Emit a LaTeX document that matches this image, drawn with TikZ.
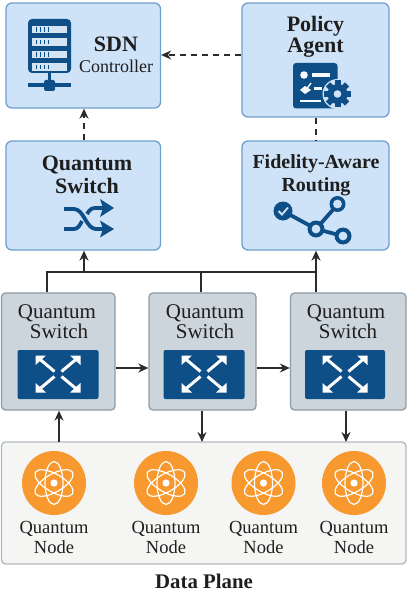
\documentclass[tikz,border=0pt]{standalone}
\usepackage{fontspec}
\setmainfont{Liberation Serif}
\usetikzlibrary{arrows.meta}
\definecolor{panelblue}{HTML}{CFE3F8}
\definecolor{panelline}{HTML}{6F9FD0}
\definecolor{deepblue}{HTML}{0F4F87}
\definecolor{slotblue}{HTML}{D5E4F2}
\definecolor{switchgrey}{HTML}{CDD5DC}
\definecolor{switchline}{HTML}{8E9BA5}
\definecolor{atomorange}{HTML}{F7992E}
\definecolor{planefill}{HTML}{F5F5F3}
\definecolor{planeline}{HTML}{B0BABF}
\definecolor{wire}{HTML}{2B2B2B}
\definecolor{ink}{HTML}{1E1E1E}
\tikzset{
  ctrlbox/.style={draw=panelline,fill=panelblue,line width=1.3pt,rounded corners=6pt,inner sep=0pt},
  swbox/.style={draw=switchline,fill=switchgrey,line width=1.3pt,rounded corners=4pt,inner sep=0pt},
  swpanel/.style={fill=deepblue,rounded corners=2pt,inner sep=0pt,minimum width=81pt,minimum height=49pt},
  planebox/.style={draw=planeline,fill=planefill,line width=1.3pt,rounded corners=4pt,inner sep=0pt},
  atomdisc/.style={circle,fill=atomorange,minimum size=64pt,inner sep=0pt},
  lbl/.style={anchor=base,inner sep=0pt,text=ink},
  solidarrow/.style={draw=wire,line width=1.5pt,-{Stealth[length=10pt,width=9pt]}},
  solidwire/.style={draw=wire,line width=1.5pt},
  dasharrow/.style={draw=wire,line width=1.3pt,dash pattern=on 6pt off 5pt,-{Stealth[length=10pt,width=9pt]}},
  dashwire/.style={draw=wire,line width=1.3pt,dash pattern=on 6pt off 5pt},
}
\newcommand{\boldlbl}[1]{\fontsize{#1}{#1}\selectfont\bfseries}
\newcommand{\reglbl}[1]{\fontsize{#1}{#1}\selectfont}
% box by corners: name, style, x1,y1,x2,y2
\newcommand{\cornerbox}[6]{%
  \node[#2,minimum width={#5pt-#3pt},minimum height={#6pt-#4pt}] (#1) at ({(#3+#5)/2},{(#4+#6)/2}) {};}
% white diagonal arrows centred at (#1,#2)
\newcommand{\crossarrows}[2]{%
  \begin{scope}[shift={(#1,#2)}]
    \foreach \sx/\sy in {1/1,1/-1,-1/1,-1/-1}{
      \draw[white,line width=3pt] (\sx*3.5,\sy*2.5) -- (\sx*19,\sy*15.5);
      \fill[white] (\sx*22.5,\sy*18.5) -- (\sx*22.5,\sy*9) -- (\sx*12,\sy*18.5) -- cycle;
    }
  \end{scope}}
% atom centred at (#1,#2)
\newcommand{\atomicon}[2]{%
  \begin{scope}[shift={(#1,#2)}]
    \foreach \a in {90,30,-30}{
      \draw[white,line width=1.2pt,rotate=\a] (0,0) ellipse [x radius=21.5pt,y radius=9pt];
    }
    \fill[white] (0,0) circle (3.6pt);
  \end{scope}}
\begin{document}
\begin{tikzpicture}[x=1pt,y=-1pt]
\useasboundingbox (0,0) rectangle (408,596);
% upper boxes
\cornerbox{sdn}{ctrlbox}{6}{3}{160.5}{108}
\cornerbox{policy}{ctrlbox}{242}{3}{389}{117}
\cornerbox{qstop}{ctrlbox}{6}{141}{160.5}{250}
\cornerbox{routing}{ctrlbox}{242}{141}{389}{250}
% switches
\cornerbox{swa}{swbox}{1.5}{293}{115}{410}
\cornerbox{swb}{swbox}{149}{293}{256}{410}
\cornerbox{swc}{swbox}{290.5}{293}{406}{410}
\cornerbox{plane}{planebox}{1.5}{442}{406}{564}
% connector anchors
\coordinate (busa) at (47,272);
\coordinate (busb) at (200.9,272);
\coordinate (busc) at (316,272);
\coordinate (busq) at (84,272);
\coordinate (linka) at (59,442);
\coordinate (linkb) at (202,442);
\coordinate (linkc) at (346,442);
\coordinate (row) at (0,368);
\coordinate (dashrow) at (0,55);
% connectors
\draw[solidwire] (busa |- swa.north) -- (busa) -- (busc);
\draw[draw=wire,line width=1.9pt] (busb |- swb.north) -- (busb);
\draw[solidarrow] (busc |- swc.north) -- (busc |- routing.south);
\draw[solidarrow] (busq) -- (busq |- qstop.south);
\draw[solidarrow] (swa.east |- row) -- (swb.west |- row);
\draw[solidarrow] (swb.east |- row) -- (swc.west |- row);
\draw[solidarrow] (linka) -- (linka |- swa.south);
\draw[solidarrow] (linkb |- swb.south) -- (linkb);
\draw[solidarrow] (linkc |- swc.south) -- (linkc);
\draw[dasharrow] (policy.west |- dashrow) -- (sdn.east |- dashrow);
\draw[dasharrow] (busq |- qstop.north) -- (busq |- sdn.south);
\draw[dashwire] (busc |- policy.south) -- (busc |- routing.north);
% SDN icon
\fill[deepblue,rounded corners=4pt] (28,19) rectangle (71,73);
\foreach \y in {26,38.5,51,63.5}{
  \fill[slotblue] (32,\y) rectangle (67,{\y+7.5});
  \foreach \x in {36,40,44,48}{\fill[deepblue] (\x,{\y+1.5}) rectangle ({\x+1.4},{\y+6});}
}
\fill[deepblue] (48,73) rectangle (51,82);
\fill[deepblue] (28,83) rectangle (71,87);
\fill[deepblue,rounded corners=2pt] (44,80) rectangle (55,91);
\node[lbl] (sdnt) at (116,52) {\boldlbl{22}SDN};
\node[lbl] (sdns) at (116,73) {\reglbl{18}Controller};
% top switch
\node[lbl] (qta) at (87,170) {\boldlbl{22}Quantum};
\node[lbl] (qtb) at (87,193) {\boldlbl{22}Switch};
\draw[deepblue,line width=3.8pt] (64,209) -- (74,209) .. controls (84,209) and (86,229) .. (96,229) -- (108,229);
\draw[deepblue,line width=3.8pt] (64,229) -- (74,229) .. controls (78,229) and (80,225) .. (82,221);
\draw[deepblue,line width=3.8pt] (87,214) .. controls (90,209) and (92,208) .. (96,208) -- (108,208);
\fill[deepblue] (100,199) -- (114,208) -- (100,217) -- (103,208) -- cycle;
\fill[deepblue] (100,220.5) -- (114,229) -- (100,237.5) -- (103,229) -- cycle;
% policy
\node[lbl] (pa) at (315.5,32) {\boldlbl{22}Policy};
\node[lbl] (pb) at (315.5,53) {\boldlbl{22}Agent};
\fill[deepblue,rounded corners=3pt] (293,63) rectangle (337.5,108.5);
\fill[white!85!panelblue] (304,75) circle (3.8pt);
\fill[white!85!panelblue] (312,73.5) rectangle (330,77);
\fill[white!85!panelblue] (300,90) -- (305,86) -- (311,90) -- (305,94) -- cycle;
\draw[white!85!panelblue,line width=1.4pt] (306,90) -- (311,83);
\fill[white!85!panelblue] (314,87) rectangle (322,90);
\fill[white!85!panelblue] (300,100) rectangle (321,102.5);
\fill[panelblue] (337.5,94) circle (15pt);
\foreach \a in {0,45,...,315}{
  \fill[deepblue,rotate around={\a:(337.5,94)}] (334.5,80.5) rectangle (340.5,90);
}
\fill[deepblue] (337.5,94) circle (10pt);
\fill[panelblue] (337.5,94) circle (3.8pt);
% routing
\node[lbl] (ra) at (316,168) {\boldlbl{20}Fidelity-Aware};
\node[lbl] (rb) at (316,191) {\boldlbl{20}Routing};
\draw[deepblue,line width=3.8pt] (283,211) -- (316,229) -- (338,204);
\draw[deepblue,line width=3.8pt] (316,229) -- (343,236);
\fill[deepblue] (283,211) circle (9.5pt);
\draw[panelblue,line width=1.8pt] (278.5,211) -- (282,214.5) -- (288,207.5);
\foreach \x/\y/\r in {316/229/8.5,337.5/204/8,343/236/8.5}{
  \fill[deepblue] (\x,\y) circle (\r pt);
  \fill[panelblue] (\x,\y) circle (4.4pt);
}
% switch contents
\node[lbl] (saa) at (57,318) {\reglbl{21}Quantum};
\node[lbl] (sab) at (59,338) {\reglbl{21}Switch};
\node[lbl] (sba) at (205,318) {\reglbl{21}Quantum};
\node[lbl] (sbb) at (205,338) {\reglbl{21}Switch};
\node[lbl] (sca) at (346,318) {\reglbl{21}Quantum};
\node[lbl] (scb) at (348,338) {\reglbl{21}Switch};
\node[swpanel] (pna) at (58,374.5) {};
\node[swpanel] (pnb) at (204,374.5) {};
\node[swpanel,minimum width=80pt] (pnc) at (345,374.5) {};
\crossarrows{58}{374}
\crossarrows{204}{374}
\crossarrows{345}{374}
% quantum nodes
\foreach \n/\x in {a/54,b/166,c/263.5,d/354}{
  \node[atomdisc] (atom\n) at (\x,483) {};
  \atomicon{\x}{483}
  \node[lbl] (qn\n) at (\x,533) {\reglbl{18.5}Quantum};
  \node[lbl] (qm\n) at (\x,553) {\reglbl{18.5}Node};
}
\node[lbl] (dp) at (204,588) {\boldlbl{20.8}Data Plane};
\end{tikzpicture}
\end{document}
